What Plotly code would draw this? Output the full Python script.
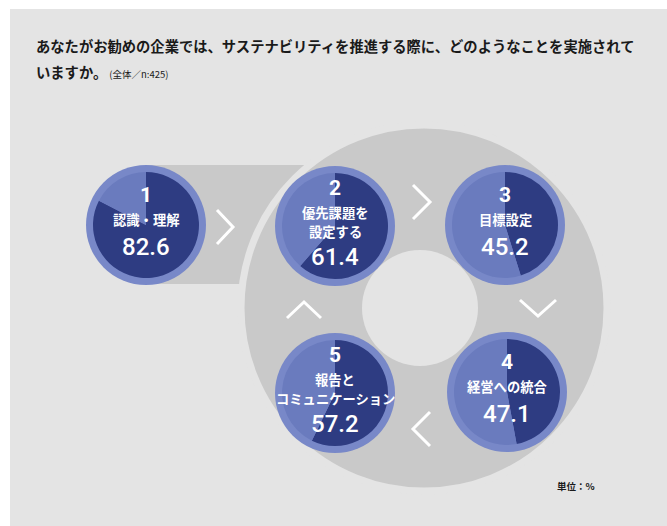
import plotly.graph_objects as go

W, H = 667, 526

# ---- data ----
steps = ["1", "2", "3", "4", "5"]
labels = ["認識・理解", "優先課題を<br>設定する", "目標設定", "経営への統合", "報告と<br>コミュニケーション"]
values = [82.6, 61.4, 45.2, 47.1, 57.2]
title_line1 = "あなたがお勧めの企業では、サステナビリティを推進する際に、どのようなことを実施されて"
title_line2 = "いますか。"
title_note = "(全体／n:425)"
unit_text = "単位：%"

# ---- layout constants ----
centers = [(146, 225), (335, 226), (505, 225), (507, 392), (335, 393)]
R_RIM = 60
R_PIE = 53
BG = "#e4e4e4"
RING = "#c9c9c9"
DARK = "#2e3c82"
LIGHT = "#6a7bbe"
RIMC = "#7888c8"
JP = "Noto Sans CJK JP"

fig = go.Figure()
# invisible trace to establish the pixel-like cartesian frame
fig.add_trace(go.Scatter(x=[0, W], y=[0, H], mode="markers", marker=dict(opacity=0),
                         hoverinfo="skip", showlegend=False))

shapes = []
shapes.append(dict(type="rect", x0=10, y0=9, x1=W + 5, y1=H + 5, fillcolor=BG, line=dict(width=0), layer="below"))
shapes.append(dict(type="rect", x0=146, y0=165, x1=340, y1=284, fillcolor=RING, line=dict(width=0), layer="below"))
rcx, rcy, rr = 424, 308, 183
shapes.append(dict(type="circle", x0=rcx - rr, y0=rcy - rr, x1=rcx + rr, y1=rcy + rr,
                   fillcolor=RING, line=dict(color=BG, width=7), layer="below"))
hcx, hcy, hr = 420, 308, 58
shapes.append(dict(type="circle", x0=hcx - hr, y0=hcy - hr, x1=hcx + hr, y1=hcy + hr,
                   fillcolor=BG, line=dict(width=0), layer="below"))
for (cx, cy) in centers:
    shapes.append(dict(type="circle", x0=cx - R_RIM, y0=cy - R_RIM, x1=cx + R_RIM, y1=cy + R_RIM,
                       fillcolor=RIMC, line=dict(width=0), layer="below"))

chev = [
    [(217, 210), (233, 227), (217, 244)],
    [(413, 185), (430, 202), (413, 219)],
    [(520, 300), (538, 316), (556, 300)],
    [(430, 412), (413, 429), (430, 446)],
    [(287, 318), (304, 302), (321, 318)],
]
for pts in chev:
    path = "M {} {} L {} {} L {} {}".format(*[c for p in pts for c in p])
    shapes.append(dict(type="path", path=path, line=dict(color="white", width=3), layer="above"))

for i, (cx, cy) in enumerate(centers):
    v = values[i]
    fig.add_trace(go.Pie(
        values=[v, 100 - v], sort=False, direction="clockwise", rotation=0,
        marker=dict(colors=[DARK, LIGHT], line=dict(width=0)),
        textinfo="none", hoverinfo="skip", showlegend=False,
        domain=dict(x=[(cx - R_PIE) / W, (cx + R_PIE) / W],
                    y=[1 - (cy + R_PIE) / H, 1 - (cy - R_PIE) / H]),
    ))

ann = []
for i, (cx, cy) in enumerate(centers):
    lines = labels[i].split("<br>")
    if len(lines) == 1:
        ny, ly, vy = cy - 30, [cy - 6], cy + 22
    else:
        ny, ly, vy = cy - 38, [cy - 14, cy + 5], cy + 31
    ann.append(dict(x=cx, y=ny, text="<b>" + steps[i] + "</b>", showarrow=False,
                    font=dict(family="Roboto", size=21, color="white"), xanchor="center", yanchor="middle"))
    for ln, yy in zip(lines, ly):
        ann.append(dict(x=cx, y=yy, text="<b>" + ln + "</b>", showarrow=False,
                        font=dict(family=JP, size=13.3, color="white"), xanchor="center", yanchor="middle"))
    ann.append(dict(x=cx, y=vy, text=f"{values[i]:.1f}", showarrow=False,
                    font=dict(family="Roboto", size=24, color="white", weight=500),
                    xanchor="center", yanchor="middle"))

ann.append(dict(x=34, y=45, text="<b>" + title_line1 + "</b>", showarrow=False,
                font=dict(family=JP, size=14.3, color="#1a1a1a"), xanchor="left", yanchor="middle"))
ann.append(dict(x=34, y=71, text="<b>" + title_line2 + "</b>" +
                "<span style='font-size:9.5px'> " + title_note + "</span>", showarrow=False,
                font=dict(family=JP, size=14.3, color="#1a1a1a"), xanchor="left", yanchor="middle"))
ann.append(dict(x=576, y=486, text="<b>" + unit_text + "</b>", showarrow=False,
                font=dict(family=JP, size=9.5, color="#1a1a1a"), xanchor="center", yanchor="middle"))

fig.update_layout(
    width=W, height=H, margin=dict(l=0, r=0, t=0, b=0),
    paper_bgcolor="white", plot_bgcolor="rgba(0,0,0,0)",
    xaxis=dict(range=[0, W], visible=False, fixedrange=True),
    yaxis=dict(range=[H, 0], visible=False, fixedrange=True),
    shapes=shapes, annotations=ann,
)
fig.write_html("out.html", config={"displayModeBar": False})
